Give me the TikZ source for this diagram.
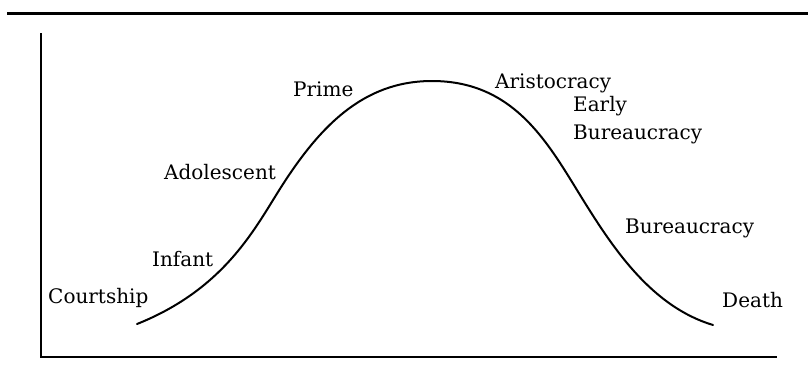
\documentclass[tikz,border=0pt]{standalone}
\usepackage{fontspec}
\setmainfont{DejaVu Serif}
\usepackage{tikz}
\usetikzlibrary{positioning}

\begin{document}
\begin{tikzpicture}[
        x=1pt, y=-1pt,
        font=\fontsize{20}{28}\selectfont,
        stage/.style={anchor=base west, inner sep=0pt, align=left},
        axis/.style={line width=2.2pt},
        lifecurve/.style={line width=2pt, line cap=round}
    ]
        \useasboundingbox (0,0) rectangle (808,373);
        % --- Rule and axes ---
        \draw[line width=3pt] (7,13) -- (808,13);
        \coordinate (top) at (41,33);
        \coordinate (origin) at (41,357);
        \coordinate (xend) at (777,357);
        \draw[axis] (top) -- (origin) -- (xend);
        % --- Life-cycle curve ---
        \coordinate (birth) at (137,324);
        \coordinate (riseinfl) at (278,192);
        \coordinate (peak) at (432,81);
        \coordinate (fallinfl) at (585,203);
        \coordinate (end) at (713,325);
        \draw[lifecurve] (birth) .. controls (222,290) and (253,232) .. (riseinfl)
            .. controls (318,128) and (362,81) .. (peak)
            .. controls (517,81) and (550,147) .. (fallinfl)
            .. controls (615,251) and (653,307) .. (end);
        % --- Stages ---
        \node[stage] (court) at (48,303) {Courtship};
        \node[stage] (infant) at (152,266) {Infant};
        \node[stage] (adol) at (164,179) {Adolescent};
        \node[stage] (prime) at (293,96) {Prime};
        \node[stage] (arist) at (495,88) {Aristocracy};
        \node[stage] (early) at (573,139) {Early\\Bureaucracy};
        \node[stage] (bureau) at (625,233) {Bureaucracy};
        \node[stage] (death) at (722,307) {Death};
    \end{tikzpicture}
\end{document}
